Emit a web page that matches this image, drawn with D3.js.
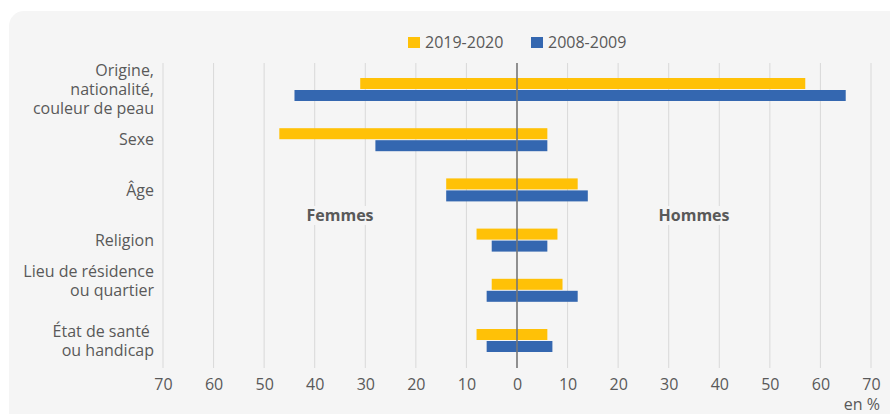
<!DOCTYPE html>
<html>
<head>
<meta charset="utf-8">
<script src="https://cdn.jsdelivr.net/npm/d3@7"></script>
<style>
  body { margin: 0; background: #fff; }
  svg { display: block; font-family: "Open Sans", sans-serif; }
</style>
</head>
<body>
<div id="chart"></div>
<script>
// motifs de discrimination, lignes du libellé
const categories = [
    ["Origine,", "nationalité,", "couleur de peau"],
    ["Sexe"],
    ["Âge"],
    ["Religion"],
    ["Lieu de résidence", "ou quartier", ""],
    ["État de santé ", "ou handicap"]
];
const seriesNames = ["2019-2020", "2008-2009"];
// femmes (négatif) / hommes (positif), en %
const femmes2019 = [31, 47, 14, 8, 5, 8];
const hommes2019 = [57, 6, 12, 8, 9, 6];
const femmes2008 = [44, 28, 14, 5, 6, 6];
const hommes2008 = [65, 6, 14, 6, 12, 7];
const xTicks = [-70, -60, -50, -40, -30, -20, -10, 0, 10, 20, 30, 40, 50, 60, 70];

const colors = ["#FFC107", "#3467B0"];
const width = 890, height = 414;

const svg = d3.select("#chart")
    .append("svg")
    .attr("width", width)
    .attr("height", height);

svg.append("rect")
    .attr("x", 9).attr("y", 11)
    .attr("width", 900).attr("height", 440)
    .attr("rx", 15)
    .attr("fill", "#f5f5f5");

const xScale = d3.scaleLinear()
    .domain([-70, 70])
    .range([163, 871]);

const ids = categories.map((d, i) => i);
const yScale = d3.scaleBand()
    .domain(ids)
    .range([64.4, 365.6]);

const gridTop = 63, gridBottom = 368;

// grille verticale
svg.append("g")
    .selectAll("line")
    .data(xTicks.filter(d => d !== 0))
    .join("line")
    .attr("x1", d => xScale(d)).attr("x2", d => xScale(d))
    .attr("y1", gridTop).attr("y2", gridBottom)
    .attr("stroke", "#d9d9d9")
    .attr("stroke-width", 1);

const xAxis = d3.axisBottom(xScale)
    .tickValues(xTicks)
    .tickSize(0)
    .tickPadding(0)
    .tickFormat(d => Math.abs(d));
const xAxisGroup = svg.append("g")
    .attr("transform", `translate(0,${gridBottom})`)
    .call(xAxis);
xAxisGroup.select(".domain").remove();
xAxisGroup.selectAll("text")
    .attr("dy", "1.38em")
    .style("font-size", "16px")
    .style("font-family", "Open Sans")
    .attr("fill", "#595959");

svg.append("text")
    .attr("x", 880).attr("y", 410)
    .attr("text-anchor", "end")
    .style("font-size", "16px")
    .attr("fill", "#595959")
    .text("en %");

// barres
const rows = ids.map(i => ({
    id: i,
    bars: [
        { s: 0, lo: -femmes2019[i], hi: hommes2019[i] },
        { s: 1, lo: -femmes2008[i], hi: hommes2008[i] }
    ]
}));
const barH = 11;
svg.append("g")
    .selectAll("g")
    .data(rows)
    .join("g")
    .selectAll("rect")
    .data(r => r.bars.map(b => ({ ...b, id: r.id })))
    .join("rect")
    .attr("x", d => xScale(d.lo))
    .attr("width", d => xScale(d.hi) - xScale(d.lo))
    .attr("y", d => yScale(d.id) + yScale.bandwidth() / 2 + (d.s === 0 ? -barH - 0.5 : 0.5))
    .attr("height", barH)
    .attr("fill", d => colors[d.s]);

// axe zéro
svg.append("line")
    .attr("x1", xScale(0)).attr("x2", xScale(0))
    .attr("y1", gridTop).attr("y2", gridBottom)
    .attr("stroke", "#767676")
    .attr("stroke-width", 1.6);

// libellés des catégories
const lineH = 19;
svg.append("g")
    .selectAll("text")
    .data(categories)
    .join("text")
    .attr("text-anchor", "end")
    .style("font-size", "16px")
    .attr("fill", "#595959")
    .each(function (lines, i) {
        const cy = yScale(i) + yScale.bandwidth() / 2;
        const top = cy - (lines.length - 1) * lineH / 2;
        d3.select(this).selectAll("tspan")
            .data(lines)
            .join("tspan")
            .attr("x", 154)
            .attr("y", (d, j) => top + j * lineH)
            .attr("dy", "0.35em")
            .style("white-space", "pre")
            .text(d => d);
    });

// Femmes / Hommes
const sideLabels = [{ t: "Femmes", v: -35 }, { t: "Hommes", v: 35 }];
const sides = svg.append("g")
    .selectAll("g")
    .data(sideLabels)
    .join("g")
    .attr("transform", d => `translate(${xScale(d.v)},215)`);
sides.append("rect")
    .attr("x", -40).attr("y", -9)
    .attr("width", 80).attr("height", 19)
    .attr("fill", "#f5f5f5");
sides.append("text")
    .attr("text-anchor", "middle")
    .attr("dy", "0.35em")
    .style("font-size", "16px")
    .style("font-weight", "700")
    .attr("fill", "#595959")
    .text(d => d.t);

// légende
const legendX = [408, 531];
const legend = svg.append("g")
    .selectAll("g")
    .data(seriesNames)
    .join("g")
    .attr("transform", (d, i) => `translate(${legendX[i]},37)`);
legend.append("rect")
    .attr("width", 12).attr("height", 11)
    .attr("fill", (d, i) => colors[i]);
legend.append("text")
    .attr("x", 17).attr("y", 5.5)
    .attr("dy", "0.35em")
    .style("font-size", "16px")
    .attr("fill", "#595959")
    .text(d => d);
</script>
</body>
</html>
